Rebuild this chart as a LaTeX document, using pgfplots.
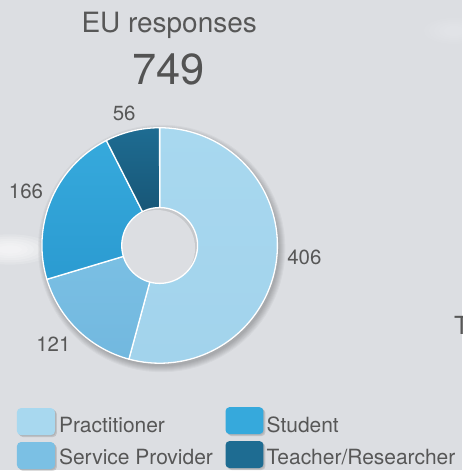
\documentclass[border=0pt]{standalone}
\usepackage{fontspec}
\setmainfont{TeX Gyre Heros}
\usepackage{pgfplots}
\pgfplotsset{compat=1.18}
\definecolor{bgc}{HTML}{DCDEE2}
\definecolor{txt}{HTML}{575757}
\definecolor{cPrac}{HTML}{A8D8EF}
\definecolor{cPracB}{HTML}{A2D3EC}
\definecolor{cServ}{HTML}{7BC0E4}
\definecolor{cServB}{HTML}{72B8DF}
\definecolor{cStud}{HTML}{36A9DC}
\definecolor{cStudB}{HTML}{2B9BD1}
\definecolor{cTeach}{HTML}{1E6C92}
\definecolor{cTeachB}{HTML}{154E6C}
% data
\def\vPrac{406}
\def\vServ{121}
\def\vStud{166}
\def\vTeach{56}
\pgfmathsetmacro\tot{\vPrac+\vServ+\vStud+\vTeach}
\pgfmathsetmacro\aO{90}
\pgfmathsetmacro\aA{\aO-\vPrac/\tot*360}
\pgfmathsetmacro\aB{\aA-\vServ/\tot*360}
\pgfmathsetmacro\aC{\aB-\vStud/\tot*360}
\pgfmathsetmacro\aD{\aC-\vTeach/\tot*360}
\def\cx{160}
\def\cy{225}
\def\R{118}
\def\r{38}
\newcommand\fs[1]{\fontsize{#1}{#1}\selectfont}
\begin{document}
\begin{tikzpicture}[x=1pt,y=1pt]
\fill[bgc] (0,0) rectangle (463,471);
% light streaks
\begin{scope}[overlay]
\clip (0,0) rectangle (463,471);
\foreach \k in {1,...,6}{
  \fill[white,opacity=0.17] (10,221) ellipse ({6+6*\k} and {2+2.2*\k});
}
\foreach \k in {1,...,5}{
  \fill[white,opacity=0.05] (455,440) ellipse ({5+5*\k} and {3+2*\k});
}
\end{scope}
\begin{axis}[at={(0,0)},anchor=south west,scale only axis,
  width=463pt,height=471pt,xmin=0,xmax=463,ymin=0,ymax=471,
  hide axis,clip=false]
% shadow of the donut
\pgfplotsinvokeforeach{0,...,6}{
  \addplot[draw=none,fill=black,fill opacity=0.035,domain=0:360,samples=90]
    ({\cx+2+(\R+#1)*cos(x)},{\cy-3+(\R+#1)*sin(x)}) -- cycle;
}
% slices
\addplot[top color=cPrac,bottom color=cPracB,draw=white,line width=1.3pt,domain=\aA:\aO,samples=80]
  ({\cx+\R*cos(x)},{\cy+\R*sin(x)}) -- (axis cs:\cx,\cy) -- cycle;
\addplot[top color=cServ,bottom color=cServB,draw=white,line width=1.3pt,domain=\aB:\aA,samples=40]
  ({\cx+\R*cos(x)},{\cy+\R*sin(x)}) -- (axis cs:\cx,\cy) -- cycle;
\addplot[top color=cStud,bottom color=cStudB,draw=white,line width=1.3pt,domain=\aC:\aB,samples=40]
  ({\cx+\R*cos(x)},{\cy+\R*sin(x)}) -- (axis cs:\cx,\cy) -- cycle;
\addplot[top color=cTeach,bottom color=cTeachB,draw=white,line width=1.3pt,domain=\aD:\aC,samples=20]
  ({\cx+\R*cos(x)},{\cy+\R*sin(x)}) -- (axis cs:\cx,\cy) -- cycle;
\end{axis}
% hole
\fill[bgc!90!black] (\cx,\cy) circle[radius=\r];
\begin{scope}
\clip (\cx,\cy) circle[radius=\r];
\fill[bgc] (\cx-2.5,\cy-2.5) circle[radius=\r];
\end{scope}
\draw[white,line width=1.3pt] (\cx,\cy) circle[radius=\r];
% value labels
\node[txt,font=\fs{20.5},inner sep=0] at (124.5,357) {\vTeach};
\node[txt,font=\fs{20.5},inner sep=0] at (26,279) {\vStud};
\node[txt,font=\fs{20.5},inner sep=0] at (53.5,126.5) {\vServ};
\node[txt,font=\fs{20.5},inner sep=0] at (305,213.5) {\vPrac};
% titles
\node[txt,font=\fs{28},inner sep=0,anchor=base] at (169.5,438) {EU responses};
\node[txt!95!black,font=\fs{43.5},inner sep=0,anchor=base] at (169,386) {749};
\node[overlay,txt,font=\fs{25},inner sep=0,anchor=base west] at (455,136) {T};
% legend
\foreach \x/\y/\c in {17/35/cPrac,17/1/cServ,226/36/cStud,226/2/cTeach}{
  \fill[black,opacity=0.12,rounded corners=4pt] (\x+2,\y-2) rectangle (\x+40,\y+25);
  \fill[black,opacity=0.08,rounded corners=4pt] (\x+1,\y-1) rectangle (\x+39,\y+26);
  \fill[\c,rounded corners=4pt] (\x,\y) rectangle (\x+38,\y+27);
}
\node[txt,font=\fs{21},inner sep=0,anchor=base west] at (59,38) {Practitioner};
\node[txt,font=\fs{21},inner sep=0,anchor=base west] at (59,6) {Service Provider};
\node[txt,font=\fs{21},inner sep=0,anchor=base west] at (267,38) {Student};
\node[txt,font=\fs{21},inner sep=0,anchor=base west] at (267,6) {Teacher/Researcher};
\end{tikzpicture}
\end{document}
